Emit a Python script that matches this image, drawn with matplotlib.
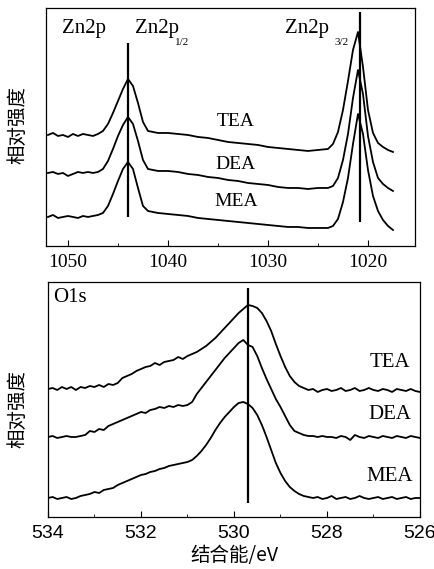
import matplotlib
matplotlib.use("Agg")
import matplotlib.pyplot as plt
from matplotlib.ticker import MultipleLocator

plt.rcParams.update({
    "font.family": "Liberation Serif",
    "mathtext.fontset": "stix",
    "xtick.direction": "in",
    "axes.linewidth": 0.9,
})

# ---- Zn2p spectra (binding energy in eV, intensity in arbitrary units, offset stacked)
zn_energy = [1052.0, 1051.5, 1051.0, 1050.5, 1050.0, 1049.5, 1049.0, 1048.5, 1048.0, 1047.5,
             1047.0, 1046.5, 1046.0, 1045.5, 1045.0, 1044.5, 1044.0, 1043.5, 1043.0, 1042.5,
             1042.0, 1041.5, 1041.0, 1040.0, 1039.0, 1038.0, 1037.0, 1036.0, 1035.0, 1034.0,
             1033.0, 1032.0, 1031.0, 1030.0, 1029.0, 1028.0, 1027.0, 1026.0, 1025.0, 1024.0,
             1023.5, 1023.0, 1022.5, 1022.0, 1021.5, 1021.0, 1020.5, 1020.0, 1019.5, 1019.0,
             1018.5, 1018.0, 1017.5]
zn_tea = [111, 113, 110, 111, 109, 112, 110, 112, 111, 110,
          112, 115, 122, 133, 145, 157, 167, 160, 143, 124,
          115, 114, 113, 113, 112, 111, 109, 108, 106, 104,
          103, 102, 101, 99, 98, 97, 96, 95, 96, 97,
          102, 114, 136, 165, 196, 214, 179, 136, 113, 103,
          99, 96, 94]
zn_dea = [73, 74, 72, 73, 70, 72, 74, 73, 74, 73,
          74, 77, 85, 97, 110, 121, 129, 122, 105, 86,
          77, 76, 75, 75, 74, 72, 71, 69, 68, 66,
          65, 63, 62, 61, 59, 58, 58, 57, 58, 58,
          60, 68, 86, 112, 148, 176, 152, 110, 84, 68,
          62, 58, 55]
zn_mea = [29, 31, 28, 29, 30, 29, 28, 30, 29, 30,
          31, 33, 40, 52, 65, 77, 84, 77, 58, 40,
          35, 34, 33, 32, 31, 30, 28, 27, 26, 25,
          24, 23, 22, 21, 20, 19, 19, 18, 18, 18,
          20, 27, 44, 68, 102, 132, 112, 76, 50, 35,
          26, 20, 16]
zn_marks = [1044.0, 1020.8]

# ---- O1s spectra
o_energy = [534.0, 533.9, 533.8, 533.7, 533.6, 533.5, 533.4, 533.3, 533.2, 533.1,
            533.0, 532.9, 532.8, 532.7, 532.6, 532.5, 532.4, 532.3, 532.2, 532.1,
            532.0, 531.9, 531.8, 531.7, 531.6, 531.5, 531.4, 531.3, 531.2, 531.1,
            531.0, 530.9, 530.8, 530.7, 530.6, 530.5, 530.4, 530.3, 530.2, 530.1,
            530.0, 529.9, 529.8, 529.7, 529.6, 529.5, 529.4, 529.3, 529.2, 529.1,
            529.0, 528.9, 528.8, 528.7, 528.6, 528.5, 528.4, 528.3, 528.2, 528.1,
            528.0, 527.9, 527.8, 527.7, 527.6, 527.5, 527.4, 527.3, 527.2, 527.1,
            527.0, 526.9, 526.8, 526.7, 526.6, 526.5, 526.4, 526.3, 526.2, 526.1,
            526.0]
o_tea = [128, 129, 127, 130, 128, 130, 127, 130, 129, 131,
         130, 132, 130, 133, 132, 134, 139, 141, 143, 146,
         148, 150, 151, 154, 152, 155, 156, 157, 160, 158,
         161, 163, 165, 168, 171, 175, 179, 184, 189, 194,
         199, 204, 208, 212, 211, 209, 204, 196, 186, 173,
         161, 150, 141, 135, 131, 129, 127, 128, 125, 127,
         128, 126, 127, 129, 126, 127, 129, 126, 127, 129,
         127, 126, 128, 127, 125, 128, 127, 126, 128, 126,
         125]
o_dea = [80, 81, 79, 80, 81, 80, 80, 81, 82, 86,
         85, 88, 87, 91, 93, 95, 97, 99, 101, 103,
         105, 104, 107, 108, 110, 109, 111, 110, 112, 111,
         112, 115, 123, 129, 135, 141, 147, 153, 159, 164,
         169, 174, 177, 172, 170, 161, 149, 138, 128, 118,
         110, 101, 92, 86, 84, 82, 81, 81, 80, 81,
         80, 80, 79, 81, 80, 77, 82, 80, 79, 81,
         80, 79, 81, 80, 79, 81, 80, 79, 81, 80,
         79]
o_mea = [19, 20, 18, 19, 20, 18, 19, 21, 22, 23,
         25, 24, 27, 28, 29, 32, 34, 36, 38, 40,
         42, 43, 45, 46, 48, 49, 51, 52, 53, 54,
         55, 57, 61, 66, 72, 79, 87, 94, 100, 105,
         110, 114, 115, 113, 109, 102, 92, 80, 67, 54,
         44, 36, 30, 26, 23, 21, 20, 19, 20, 18,
         19, 21, 18, 19, 20, 18, 19, 21, 19, 18,
         19, 20, 18, 19, 20, 18, 19, 20, 18, 19,
         19]
o_mark = 529.7

samples = ["TEA", "DEA", "MEA"]
cjk = ["Noto Sans CJK SC", "DejaVu Sans"]

fig = plt.figure(figsize=(4.35, 5.69), dpi=100)
ax1 = fig.add_axes([0.1057, 0.5677, 0.8483, 0.4183])
ax2 = fig.add_axes([0.1103, 0.0914, 0.8552, 0.4130])

# top panel
for y in (zn_tea, zn_dea, zn_mea):
    ax1.plot(zn_energy, y, color="black", lw=1.3)
ax1.vlines(zn_marks[0], 29, 203, color="black", lw=1.6)
ax1.vlines(zn_marks[1], 24, 234, color="black", lw=1.6)
ax1.set_xlim(1052.2, 1015.3)
ax1.set_ylim(0, 238)
ax1.xaxis.set_major_locator(MultipleLocator(10))
ax1.xaxis.set_minor_locator(MultipleLocator(5))
ax1.tick_params(axis="x", which="major", length=4, labelsize=14, pad=6)
ax1.tick_params(axis="x", which="minor", length=2.5)
ax1.set_yticks([])

ax1.text(1050.6, 213, "Zn2p", fontsize=15, va="baseline", ha="left")
ax1.text(1043.3, 213, "Zn2p", fontsize=15, va="baseline", ha="left")
ax1.text(1039.3, 201, "1/2", fontsize=8, va="baseline", ha="left")
ax1.text(1028.3, 213, "Zn2p", fontsize=15, va="baseline", ha="left")
ax1.text(1023.3, 201, "3/2", fontsize=8, va="baseline", ha="left")
for name, yy in zip(samples, [124, 81, 44]):
    ax1.text(1033.2, yy, name, fontsize=14, ha="center", va="center")

# bottom panel
for y in (o_tea, o_dea, o_mea):
    ax2.plot(o_energy, y, color="black", lw=1.3)
ax2.vlines(o_mark, 14, 229, color="black", lw=1.6)
ax2.set_xlim(534, 526)
ax2.set_ylim(0, 235)
ax2.xaxis.set_major_locator(MultipleLocator(2))
ax2.xaxis.set_minor_locator(MultipleLocator(1))
ax2.tick_params(axis="x", which="major", length=4, labelsize=14, pad=6)
ax2.tick_params(axis="x", which="minor", length=2.5)
for lab in ax2.get_xticklabels():
    lab.set_family("Liberation Sans")
ax2.set_yticks([])

ax2.text(533.9, 219, "O1s", fontsize=15, ha="left", va="center")
for name, yy in zip(samples, [154, 102, 40]):
    ax2.text(526.65, yy, name, fontsize=15, ha="center", va="center")

ax2.set_xlabel("结合能/eV", family=cjk, fontsize=14, labelpad=2)
fig.text(0.042, 1 - 125 / 569, "相对强度", family=cjk, fontsize=14,
         rotation=90, ha="center", va="center")
fig.text(0.042, 1 - 409 / 569, "相对强度", family=cjk, fontsize=14,
         rotation=90, ha="center", va="center")

fig.savefig("out.png", dpi=100)
